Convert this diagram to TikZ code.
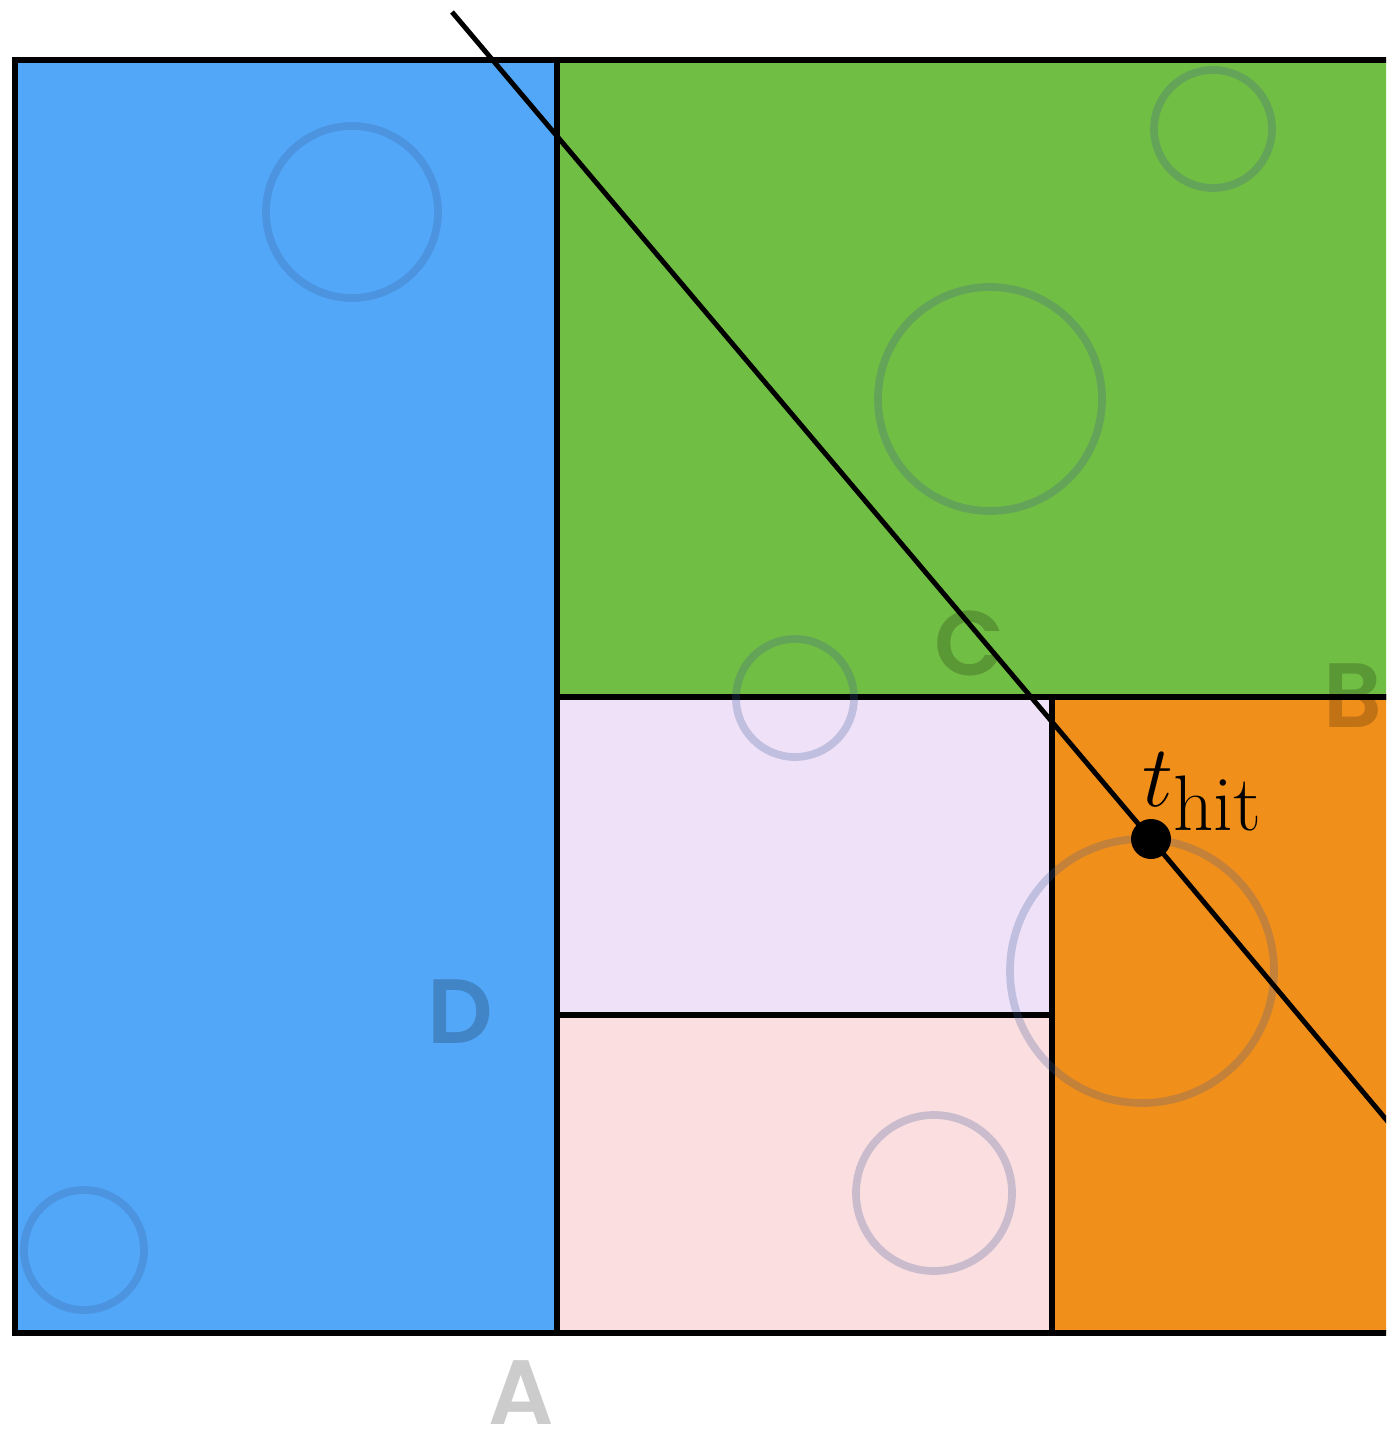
\documentclass[tikz,border=0pt]{standalone}
\usepackage{fontspec}
\newfontfamily\lblfont{Poppins SemiBold}
\definecolor{cellD}{HTML}{52A7F9}
\definecolor{cellC}{HTML}{71BE44}
\definecolor{cellB}{HTML}{F18F1B}
\definecolor{cellL}{HTML}{EEE1F8}
\definecolor{cellP}{HTML}{FADEE0}
\definecolor{ringcol}{RGB}{60,90,150}
\tikzset{
  cell/.style={draw=black, line width=1.6pt},
  ring/.style={draw=ringcol, draw opacity=0.25, line width=2.2pt},
  lbl/.style={font=\lblfont\fontsize{26}{26}\selectfont, text=black, text opacity=0.2, anchor=base, inner sep=0pt},
  ray/.style={draw=black, line width=1.4pt}
}
\begin{document}
\begin{tikzpicture}[y=-1cm]
  \clip (0,0) rectangle (13.86,14.30);
  \fill[white] (0,0) rectangle (13.86,14.30);

  % cells
  \draw[cell, fill=cellD] (0.15,0.60) rectangle (5.57,13.33);
  \draw[cell, fill=cellC] (5.57,0.60) rectangle (14.20,6.97);
  \draw[cell, fill=cellL] (5.57,6.97) rectangle (10.52,10.15);
  \draw[cell, fill=cellP] (5.57,10.15) rectangle (10.52,13.33);
  \draw[cell, fill=cellB] (10.52,6.97) rectangle (14.20,13.33);

  % bounding circles
  \foreach \cx/\cy/\r in {3.52/2.12/0.86, 0.84/12.50/0.60, 12.13/1.29/0.59,
      9.90/3.99/1.12, 7.95/6.98/0.59, 11.42/9.71/1.32, 9.34/11.93/0.78}
    \draw[ring] (\cx,\cy) circle (\r);

  \node[lbl] (lA) at (5.21,14.24) {A};
  \node[lbl] (lB) at (13.53,7.27) {B};
  \node[lbl] (lC) at (9.70,6.75) {C};
  \node[lbl] (lD) at (4.60,10.43) {D};

  % ray and hit
  \coordinate (ray0) at (4.52,0.12);
  \coordinate (hitp) at (11.51,8.39);
  \coordinate (ray1) at (14.20,11.60);
  \draw[ray] (ray0) -- (hitp) -- (ray1);
  \node[circle, fill=black, minimum size=0.40cm, inner sep=0pt] (hit) at (hitp) {};
  \node[anchor=base west, inner sep=0pt, font=\fontsize{32}{36}\selectfont] (thit) at (11.42,8.06) {$t_{\mathrm{hit}}$};
\end{tikzpicture}
\end{document}
